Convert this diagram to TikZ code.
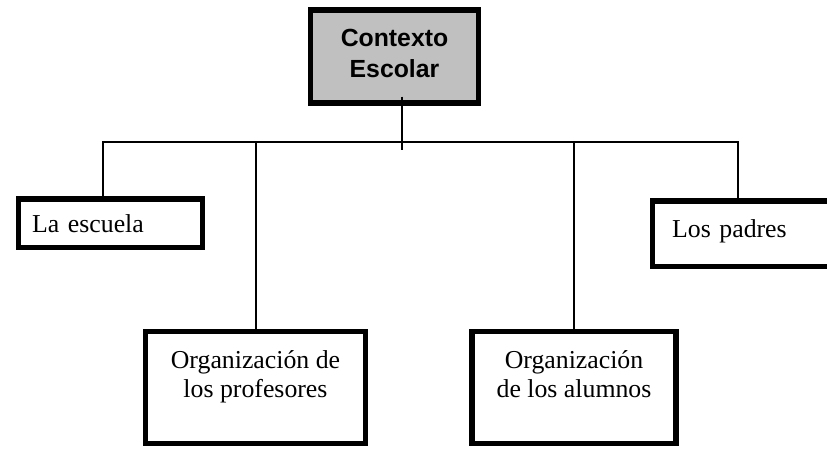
\documentclass[tikz,border=0pt]{standalone}
\usepackage{fontspec}
\setmainfont{Liberation Serif}
\setsansfont{Liberation Sans}
\usetikzlibrary{positioning}

\definecolor{boxgray}{RGB}{192,192,192}

\tikzset{
  box/.style={draw, line width=5.2pt, fill=white, inner ysep=0pt,
    font=\fontsize{25.8}{29.5}\selectfont},
  link/.style={line width=2.4pt},
}

\begin{document}
\begin{tikzpicture}[x=1pt, y=-1pt]
\useasboundingbox (0,0) rectangle (827,449);

% bus line and its drops
\coordinate (busL) at (103,142);
\coordinate (busP) at (256,142);
\coordinate (busA) at (574,142);
\coordinate (busR) at (738,142);
\coordinate (stemEnd) at (402,150);

% boxes (two-line ones sit on the baseline of their last line)
\node[box, fill=boxgray, anchor=base, minimum width=168pt, inner xsep=0pt,
  text height=68pt, text depth=25pt, align=center,
  font=\sffamily\bfseries\fontsize{24.8}{31.5}\selectfont] (ctx) at (394.5,78) {Contexto\\Escolar};
\node[box, anchor=base west, inner xsep=14pt, text width=156.5pt, align=left,
  text height=34pt, text depth=14.5pt] (escuela) at (15.5,233) {La escuela};
\node[box, anchor=base west, inner xsep=20pt, text width=139.5pt, align=left,
  text height=36pt, text depth=29.5pt] (padres) at (649.5,237) {Los padres};
\node[box, anchor=base, minimum width=220pt, text height=66pt, text depth=46pt,
  align=center] (prof) at (255.5,397.5) {Organización de\\los profesores};
\node[box, anchor=base, minimum width=204pt, text height=66pt, text depth=46pt,
  align=center] (alum) at (574,397.5) {Organización\\de los alumnos};

% connectors
\draw[link] (busL |- escuela.north) |- (busR) -- (busR |- padres.north);
\foreach \b/\n in {busP/prof, busA/alum}{
    \draw[link] (\b) -- (\b |- \n.north);
}
\draw[link] (ctx.south -| stemEnd) ++(0,-9) -- (stemEnd);
\end{tikzpicture}
\end{document}
